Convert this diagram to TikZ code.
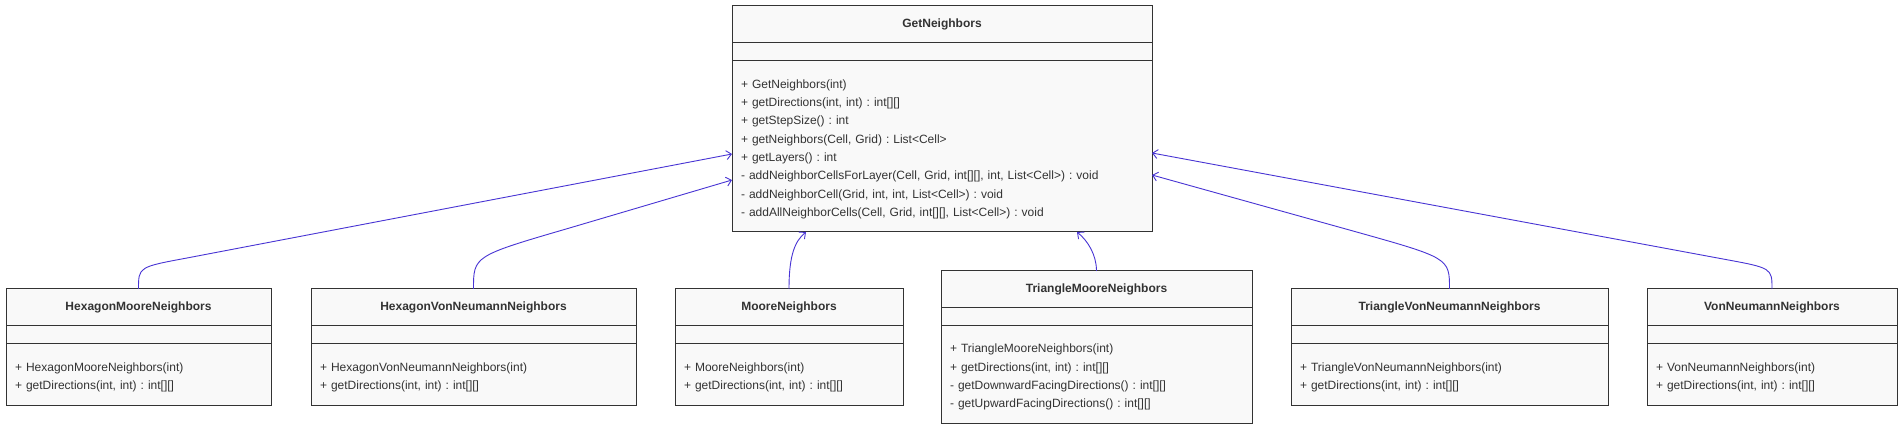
\documentclass[tikz,border=0pt]{standalone}
\usepackage{fontspec}
\setmainfont{Liberation Sans}
\usetikzlibrary{arrows.meta, positioning}
\frenchspacing

\definecolor{boxline}{HTML}{333333}
\definecolor{boxfill}{HTML}{F9F9F9}
\definecolor{edgeblue}{RGB}{72,52,212}

\tikzset{
	classname/.style={draw=boxline, fill=boxfill, line width=1pt, outer sep=0pt, minimum width=#1, minimum height=37pt, inner sep=0pt, text=boxline, font=\fontsize{12}{14}\selectfont\bfseries},
	classattr/.style={draw=boxline, fill=boxfill, line width=1pt, outer sep=0pt, minimum width=#1, minimum height=18pt, inner sep=0pt},
	classops/.style={draw=boxline, fill=boxfill, line width=1pt, outer sep=0pt, text width=#1, inner xsep=9pt, inner ysep=0pt, align=left, text=boxline, font=\fontsize{12}{18.3}\selectfont, execute at begin node=\rule{0pt}{14pt}},
	inherit/.style={draw=edgeblue, line width=0.9pt, -{Straight Barb[length=5pt,width=9pt]}},
}

\begin{document}
\begin{tikzpicture}[x=1pt, y=-1pt]
	\fill[white] (0,0) rectangle (1904,430);
	\useasboundingbox (0,0) rectangle (1904,430);
	
	% Bend points of the connectors
	\coordinate (k1) at (138.5,267);
	\coordinate (b1) at (187,258);
	\coordinate (k2) at (473.5,256);
	\coordinate (b2) at (569.5,228);
	\coordinate (k5) at (1449.5,258);
	\coordinate (b5) at (1353,231);
	\coordinate (k6) at (1772,268);
	\coordinate (b6) at (1723,259);
	
	% Base class
	\node[classname=420pt] (gn) at (942,24.5) {GetNeighbors};
	\node[classattr=420pt, below=0pt of gn] (gnA) {};
	\node[classops=402pt, minimum height=171pt, below=0pt of gnA] (gnM) {%
		+ GetNeighbors(int)\\
		+ getDirections(int, int) : int[][]\\
		+ getStepSize() : int\\
		+ getNeighbors(Cell, Grid) : List<Cell>\\
		+ getLayers() : int\\
		- addNeighborCellsForLayer(Cell, Grid, int[][], int, List<Cell>) : void\\
		- addNeighborCell(Grid, int, int, List<Cell>) : void\\
		- addAllNeighborCells(Cell, Grid, int[][], List<Cell>) : void};
	
	% Subclasses
	\node[classname=265pt] (hmn) at (138.5,307.5) {HexagonMooreNeighbors};
	\node[classattr=265pt, below=0pt of hmn] (hmnA) {};
	\node[classops=247pt, minimum height=61pt, below=0pt of hmnA] (hmnM) {%
		+ HexagonMooreNeighbors(int)\\
		+ getDirections(int, int) : int[][]};
	
	\node[classname=325pt] (hvn) at (473.5,307.5) {HexagonVonNeumannNeighbors};
	\node[classattr=325pt, below=0pt of hvn] (hvnA) {};
	\node[classops=307pt, minimum height=61pt, below=0pt of hvnA] (hvnM) {%
		+ HexagonVonNeumannNeighbors(int)\\
		+ getDirections(int, int) : int[][]};
	
	\node[classname=228pt] (mn) at (789,307.5) {MooreNeighbors};
	\node[classattr=228pt, below=0pt of mn] (mnA) {};
	\node[classops=210pt, minimum height=61pt, below=0pt of mnA] (mnM) {%
		+ MooreNeighbors(int)\\
		+ getDirections(int, int) : int[][]};
	
	\node[classname=311pt] (tmn) at (1096.5,289.5) {TriangleMooreNeighbors};
	\node[classattr=311pt, below=0pt of tmn] (tmnA) {};
	\node[classops=293pt, minimum height=97pt, below=0pt of tmnA] (tmnM) {%
		+ TriangleMooreNeighbors(int)\\
		+ getDirections(int, int) : int[][]\\
		- getDownwardFacingDirections() : int[][]\\
		- getUpwardFacingDirections() : int[][]};
	
	\node[classname=317pt] (tvn) at (1449.5,307.5) {TriangleVonNeumannNeighbors};
	\node[classattr=317pt, below=0pt of tvn] (tvnA) {};
	\node[classops=299pt, minimum height=61pt, below=0pt of tvnA] (tvnM) {%
		+ TriangleVonNeumannNeighbors(int)\\
		+ getDirections(int, int) : int[][]};
	
	\node[classname=250pt] (vn) at (1772,307.5) {VonNeumannNeighbors};
	\node[classattr=250pt, below=0pt of vn] (vnA) {};
	\node[classops=232pt, minimum height=61pt, below=0pt of vnA] (vnM) {%
		+ VonNeumannNeighbors(int)\\
		+ getDirections(int, int) : int[][]};
	
	% Inheritance arrows
	\draw[inherit] (hmn.north) .. controls (k1) .. (b1) -- ([yshift=-7.5pt]gnM.west);
	\draw[inherit] (hvn.north) .. controls (k2) .. (b2) -- ([yshift=-33.5pt]gnM.west);
	\draw[inherit] (mn.north) .. controls (789,255) and (795,241) .. ([xshift=-136pt]gnM.south);
	\draw[inherit] (tmn.north) .. controls (1096.5,255) and (1088,241) .. ([xshift=135pt]gnM.south);
	\draw[inherit] (tvn.north) .. controls (k5) .. (b5) -- ([yshift=-28.5pt]gnM.east);
	\draw[inherit] (vn.north) .. controls (k6) .. (b6) -- ([yshift=-6.5pt]gnM.east);
\end{tikzpicture}
\end{document}
